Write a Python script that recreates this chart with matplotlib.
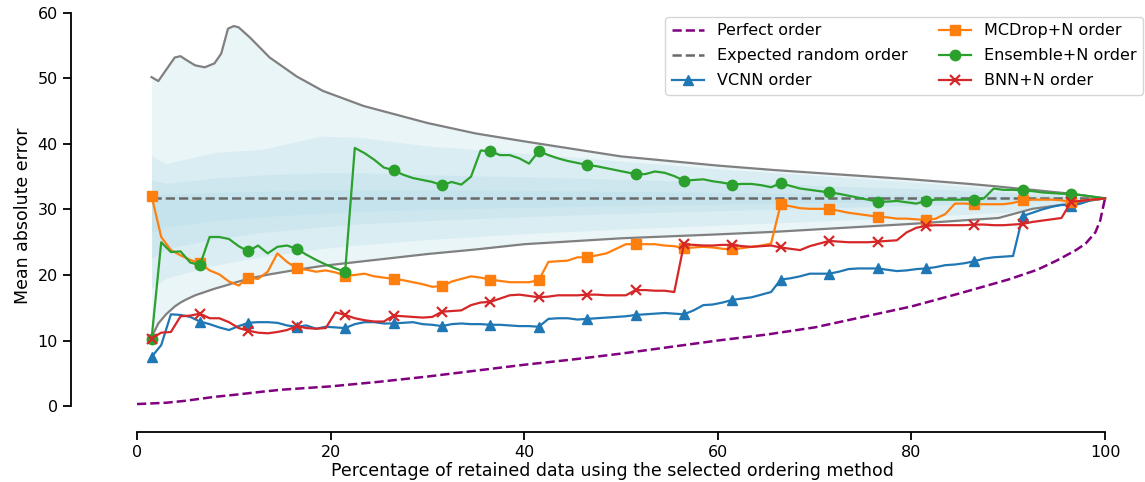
import numpy as np
import matplotlib
matplotlib.use("Agg")
import matplotlib.pyplot as plt

# retained data (%) at which each ordering is evaluated
pct = np.arange(1.5, 100, 1.0).tolist() + [100.0]

vcnn = [7.5, 9.3, 14.0, 13.9, 13.6, 12.9, 12.5, 12.0, 11.6, 12.2,
        12.7, 12.8, 12.8, 12.7, 12.3, 12.1, 12.3, 11.8, 12.1, 12.0,
        11.9, 12.5, 12.8, 12.8, 12.6, 12.6, 12.7, 12.8, 12.5, 12.4,
        12.2, 12.5, 12.6, 12.5, 12.5, 12.4, 12.4, 12.3, 12.2, 12.2,
        12.1, 13.3, 13.4, 13.4, 13.2, 13.3, 13.4, 13.5, 13.6, 13.7,
        13.9, 14.0, 14.1, 14.2, 14.1, 14.0, 14.6, 15.4, 15.5, 15.8,
        16.2, 16.4, 16.6, 17.0, 17.4, 19.3, 19.5, 19.8, 20.2, 20.2,
        20.2, 20.5, 20.9, 21.0, 21.0, 21.0, 20.8, 20.6, 20.7, 20.9,
        21.0, 21.2, 21.5, 21.6, 21.8, 22.1, 22.5, 22.7, 22.8, 22.9,
        29.0, 29.5, 30.0, 30.4, 30.7, 30.6, 30.9, 31.4, 31.6, 31.7]

mcdrop = [32.1, 25.8, 23.8, 23.0, 22.3, 21.8, 20.7, 20.1, 19.0, 18.4,
          19.6, 19.4, 20.5, 23.3, 22.0, 21.0, 20.8, 20.5, 20.7, 20.4,
          19.9, 20.0, 20.2, 19.8, 19.6, 19.4, 19.2, 18.9, 18.6, 18.2,
          18.3, 19.0, 19.4, 19.8, 19.6, 19.3, 19.1, 18.9, 18.9, 18.9,
          19.2, 22.0, 22.1, 22.2, 22.7, 22.7, 23.0, 23.3, 24.0, 24.7,
          24.7, 24.7, 24.7, 24.5, 24.4, 24.1, 24.2, 24.3, 24.2, 24.0,
          23.9, 24.1, 24.3, 24.5, 24.8, 30.8, 30.5, 30.2, 30.1, 30.1,
          30.1, 29.8, 29.5, 29.3, 29.1, 28.9, 28.8, 28.6, 28.6, 28.5,
          28.4, 28.6, 29.3, 30.9, 30.9, 30.8, 30.8, 30.8, 30.8, 31.0,
          31.4, 31.5, 31.5, 31.5, 31.4, 31.1, 31.3, 31.5, 31.6, 31.7]

ensemble = [10.2, 25.0, 23.5, 23.6, 21.9, 21.5, 25.8, 25.8, 25.5, 24.4,
            23.6, 24.5, 23.3, 24.3, 24.5, 24.0, 23.1, 22.3, 21.6, 21.0,
            20.5, 39.4, 38.6, 37.6, 36.4, 36.0, 35.3, 34.8, 34.5, 34.2,
            33.7, 34.2, 33.8, 35.0, 39.0, 38.9, 38.3, 38.3, 37.8, 37.0,
            38.9, 38.3, 37.8, 37.4, 37.1, 36.8, 36.6, 36.3, 36.0, 35.7,
            35.4, 35.4, 35.8, 35.6, 35.1, 34.4, 34.5, 34.6, 34.3, 34.1,
            33.8, 33.9, 33.9, 33.7, 33.4, 34.0, 33.6, 33.2, 33.0, 32.8,
            32.6, 32.4, 32.1, 31.8, 31.5, 31.2, 31.2, 31.3, 31.1, 30.9,
            31.3, 31.5, 31.5, 31.5, 31.5, 31.5, 31.7, 33.2, 33.0, 33.0,
            32.9, 32.8, 32.6, 32.5, 32.4, 32.4, 32.2, 32.0, 31.8, 31.7]

bnn = [10.3, 11.2, 11.3, 13.7, 13.8, 14.1, 13.4, 13.4, 12.8, 11.9,
       11.5, 11.2, 11.1, 11.3, 11.6, 12.2, 11.9, 11.8, 11.9, 14.3,
       13.9, 13.4, 13.1, 12.9, 12.9, 13.8, 13.7, 13.6, 13.5, 13.6,
       14.4, 14.5, 14.6, 15.4, 15.8, 15.9, 16.4, 16.9, 17.0, 16.8,
       16.6, 16.7, 16.9, 16.9, 16.9, 17.0, 17.0, 16.9, 16.9, 16.9,
       17.7, 17.7, 17.6, 17.6, 17.4, 24.7, 24.6, 24.5, 24.5, 24.6,
       24.6, 24.4, 24.3, 24.4, 24.5, 24.2, 24.0, 23.8, 24.4, 24.8,
       25.2, 25.1, 25.0, 25.0, 25.0, 25.1, 25.2, 25.3, 26.5, 27.2,
       27.5, 27.6, 27.6, 27.6, 27.6, 27.7, 27.7, 27.6, 27.6, 27.7,
       27.8, 28.1, 28.3, 28.5, 28.7, 31.2, 31.3, 31.5, 31.6, 31.7]

# best possible ordering (sorted by true error)
perfect_x = [0, 3, 5, 8, 10, 13, 15, 20, 25, 30, 35, 40, 45, 50, 55, 60,
             65, 70, 75, 80, 85, 90, 93, 95, 97, 98, 99, 99.5, 100]
perfect = [0.3, 0.5, 0.8, 1.4, 1.7, 2.2, 2.5, 3.0, 3.7, 4.5, 5.4, 6.3, 7.1,
           8.0, 9.0, 10.0, 10.9, 12.0, 13.6, 15.2, 17.2, 19.3, 20.8, 22.2,
           23.8, 24.8, 26.5, 28.3, 31.7]

# random ordering: expected value, min/max envelope and quantile bands
random_x = [1.5, 100]
random_mean = [31.7, 31.7]

env_x = [1.5, 2.2, 3, 3.9, 4.5, 5, 6, 7, 8, 8.7, 9.4, 10, 10.5, 11.7, 13.7,
         16.5, 19.2, 23.4, 30, 35, 40, 50, 60, 66, 80, 86, 89, 91, 92.5,
         96.5, 100]
env_hi = [50.2, 49.6, 51.3, 53.2, 53.4, 52.9, 52.0, 51.7, 52.3, 53.8, 57.6,
          58.0, 57.8, 56.2, 53.2, 50.3, 48.1, 45.8, 43.2, 41.6, 40.4, 38.1,
          36.7, 36.0, 34.6, 33.9, 33.5, 33.2, 33.0, 32.4, 31.7]
env_lo = [10.5, 12.6, 14.0, 15.2, 15.8, 16.2, 16.9, 17.4, 17.9, 18.2, 18.5,
          18.8, 19.0, 19.5, 20.1, 20.8, 21.4, 22.1, 23.2, 23.9, 24.7, 25.6,
          26.2, 26.6, 27.8, 28.4, 28.7, 29.5, 30.1, 30.9, 31.7]

band_x = [1.5, 3, 8, 13, 19, 23, 30, 40, 50, 60, 70, 80, 90, 100]
band1_hi = [38.2, 37.0, 38.7, 39.2, 41.2, 41.0, 39.7, 38.6, 37.4, 36.2, 35.2, 34.2, 33.0, 31.7]
band1_lo = [18.0, 19.5, 21.5, 22.8, 24.0, 24.6, 25.4, 26.3, 27.0, 27.6, 28.2, 28.8, 29.6, 31.7]
band2_hi = [34.5, 34.0, 34.8, 35.3, 35.6, 35.6, 35.3, 35.0, 34.6, 34.2, 33.7, 33.2, 32.6, 31.7]
band2_lo = [22.5, 24.0, 25.5, 26.5, 27.3, 27.8, 28.3, 28.9, 29.4, 29.8, 30.2, 30.6, 31.0, 31.7]
band3_hi = [32.5, 32.3, 32.6, 32.8, 33.0, 33.0, 33.0, 32.9, 32.8, 32.6, 32.4, 32.2, 32.0, 31.7]
band3_lo = [26.5, 27.3, 28.3, 28.9, 29.4, 29.7, 30.0, 30.3, 30.6, 30.8, 31.0, 31.2, 31.4, 31.7]

plt.rcParams['font.family'] = ['DejaVu Sans']
fig = plt.figure(figsize=(11.45, 4.82), dpi=100)
ax = fig.add_axes([80 / 1145, 59 / 482, 1065 / 1145, 414 / 482])

band_color = 'lightblue'
ax.fill_between(env_x, env_lo, env_hi, color=band_color, alpha=0.25, lw=0)
ax.fill_between(band_x, band1_lo, band1_hi, color=band_color, alpha=0.25, lw=0)
ax.fill_between(band_x, band2_lo, band2_hi, color=band_color, alpha=0.25, lw=0)
ax.fill_between(band_x, band3_lo, band3_hi, color=band_color, alpha=0.25, lw=0)
ax.plot(env_x, env_hi, color='gray', lw=1.6)
ax.plot(env_x, env_lo, color='gray', lw=1.6)

ax.plot(perfect_x, perfect, '--', color='purple', lw=1.8, label='Perfect order')
ax.plot(random_x, random_mean, '--', color='dimgray', lw=1.8, label='Expected random order')
ax.plot(pct, vcnn, '-^', color='#1f77b4', lw=1.6, ms=7.5, markevery=5, label='VCNN order')
ax.plot(pct, mcdrop, '-s', color='#ff7f0e', lw=1.6, ms=7.5, markevery=5, label='MCDrop+N order')
ax.plot(pct, ensemble, '-o', color='#2ca02c', lw=1.6, ms=7.5, markevery=5, label='Ensemble+N order')
ax.plot(pct, bnn, '-x', color='#d62728', lw=1.6, ms=7.5, mew=1.6, markevery=5, label='BNN+N order')

ax.set_xlim(-5.89, 104.13)
ax.set_ylim(-2.59, 60.6)
ax.set_xticks([0, 20, 40, 60, 80, 100])
ax.set_yticks([0, 10, 20, 30, 40, 50, 60])
ax.spines['top'].set_visible(False)
ax.spines['right'].set_visible(False)
ax.spines['left'].set_position(('outward', 6.5))
ax.spines['bottom'].set_position(('outward', 6.5))
ax.spines['left'].set_bounds(0, 60)
ax.spines['bottom'].set_bounds(0, 100)
for s in ['left', 'bottom']:
    ax.spines[s].set_linewidth(1.3)
ax.tick_params(labelsize=11.5, length=6, width=1.3)

ax.set_xlabel('Percentage of retained data using the selected ordering method',
              fontsize=12.5, labelpad=1)
ax.set_ylabel('Mean absolute error', fontsize=12.5)
ax.legend(ncol=2, fontsize=11.5, loc='upper right',
          bbox_to_anchor=(1143 / 1145, 465 / 482), bbox_transform=fig.transFigure,
          borderaxespad=0, columnspacing=2.0, labelspacing=0.62)

fig.savefig('out.png', dpi=100)
